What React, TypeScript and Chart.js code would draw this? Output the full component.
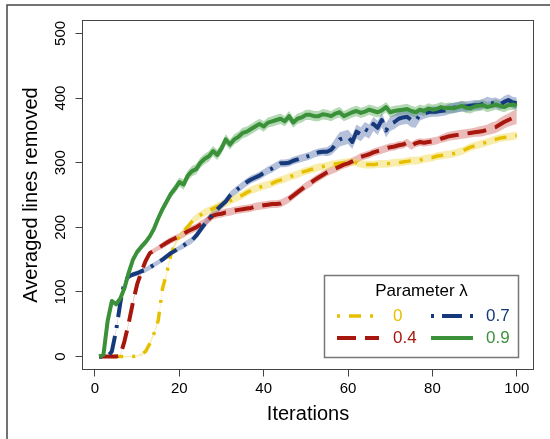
import React, { useEffect, useRef } from "react";
import { Chart, registerables } from "chart.js";

Chart.register(...registerables);

const iterations = Array.from({ length: 100 }, (_, i) => i + 1);
const lambdaLabels = ["0", "0.4", "0.7", "0.9"];
const xTickValues = [0, 20, 40, 60, 80, 100];
const yTickValues = [0, 100, 200, 300, 400, 500];

const avgLambda0 = [
  0, 0, 0, 0, 0, 0, 0, 0, 0, 1,
  3, 8, 20, 36, 56, 105, 129, 158, 175, 186,
  194, 201, 209, 215, 219, 223, 226, 229, 232, 235,
  238, 241, 244, 247, 250, 254, 257, 260, 262, 264,
  266, 268, 271, 273, 275, 278, 280, 282, 285, 287,
  289, 291, 293, 294, 295, 297, 298, 299, 300, 301,
  301, 300, 298, 297, 297, 297, 298, 298, 298, 299,
  300, 300, 301, 302, 303, 303, 304, 306, 307, 308,
  310, 311, 312, 313, 314, 316, 318, 321, 324, 326,
  328, 330, 332, 334, 336, 338, 339, 340, 341, 342,
];
const avgLambda04 = [
  0, 0, 0, 0, 0, 2, 24, 52, 84, 112,
  131, 148, 160, 164, 168, 172, 176, 180, 183, 186,
  190, 194, 197, 200, 204, 208, 213, 218, 220, 221,
  223, 224, 226, 227, 228, 229, 230, 232, 233, 234,
  235, 236, 236, 237, 240, 244, 249, 254, 259, 264,
  268, 273, 277, 281, 285, 288, 291, 294, 297, 299,
  302, 305, 309, 311, 313, 316, 318, 320, 322, 324,
  325, 327, 328, 331, 326, 330, 332, 331, 332, 333,
  334, 337, 339, 341, 342, 343, 344, 345, 346, 347,
  348, 349, 351, 353, 355, 359, 363, 366, 369, 371,
];
const avgLambda07 = [
  0, 0, 0, 8, 40, 83, 116, 124, 127, 129,
  132, 134, 138, 142, 146, 150, 155, 160, 164, 168,
  172, 176, 180, 187, 196, 205, 213, 221, 228, 234,
  240, 249, 255, 260, 265, 270, 274, 277, 280, 284,
  288, 291, 295, 299, 299, 300, 303, 305, 307, 309,
  311, 314, 316, 317, 317, 320, 328, 336, 338, 340,
  332, 348, 344, 352, 348, 360, 354, 366, 350, 360,
  363, 368, 370, 371, 366, 364, 374, 376, 378, 379,
  379, 380, 381, 383, 385, 386, 387, 387, 388, 389,
  389, 391, 394, 392, 393, 390, 394, 397, 393, 392,
];
const avgLambda09 = [
  0, 3, 55, 86, 81, 90, 106, 130, 150, 162,
  170, 177, 186, 198, 214, 228, 240, 252, 260, 270,
  266, 280, 287, 290, 300, 306, 310, 318, 312, 322,
  336, 328, 336, 340, 346, 348, 352, 356, 360, 356,
  362, 364, 366, 368, 364, 372, 362, 368, 370, 374,
  374, 372, 372, 375, 374, 372, 376, 378, 372, 375,
  378, 380, 377, 379, 382, 380, 378, 381, 386, 378,
  380, 381, 382, 383, 380, 378, 382, 380, 384, 382,
  383, 386, 384, 385, 384, 386, 388, 385, 384, 387,
  388, 389, 386, 388, 390, 388, 386, 389, 390, 388,
];

// half-width of the shaded band around each mean curve
const band0 = [
  0, 0, 0, 0, 1, 1, 1, 1, 1, 1,
  2, 2, 3, 3, 3, 3, 3, 4, 4, 4,
  5, 5, 5, 6, 6, 6, 6, 6, 6, 6,
  6, 6, 6, 6, 6, 6, 6, 6, 6, 6,
  6, 6, 6, 6, 6, 6, 6, 6, 6, 6,
  6, 6, 6, 6, 6, 6, 6, 6, 6, 6,
  6, 6, 6, 6, 6, 6, 6, 6, 6, 6,
  6, 6, 6, 6, 6, 6, 6, 6, 6, 6,
  6, 6, 6, 6, 6, 6, 6, 6, 6, 6,
  6, 6, 6, 6, 6, 6, 6, 6, 6, 6,
];
const band04 = [
  0, 0, 0, 0, 1, 1, 2, 2, 3, 3,
  3, 4, 4, 4, 4, 5, 5, 5, 5, 5,
  6, 6, 6, 6, 6, 6, 6, 6, 6, 6,
  6, 6, 6, 6, 6, 6, 6, 6, 6, 6,
  6, 6, 6, 6, 6, 6, 6, 6, 6, 6,
  6, 6, 6, 6, 6, 6, 6, 6, 6, 6,
  6, 6, 6, 6, 6, 6, 6, 6, 6, 6,
  6, 6, 6, 6, 6, 6, 6, 6, 6, 6,
  6, 6, 7, 7, 7, 7, 7, 7, 7, 7,
  8, 8, 8, 9, 9, 10, 10, 10, 11, 11,
];
const band07 = [
  0, 0, 0, 1, 2, 3, 3, 4, 4, 4,
  4, 4, 4, 4, 4, 4, 4, 4, 4, 4,
  5, 5, 5, 5, 6, 6, 6, 6, 6, 6,
  6, 6, 6, 6, 6, 6, 6, 6, 6, 6,
  6, 6, 6, 6, 6, 6, 6, 6, 6, 6,
  6, 6, 6, 6, 7, 8, 10, 11, 11, 11,
  11, 11, 11, 11, 11, 11, 11, 11, 11, 11,
  11, 11, 11, 11, 11, 10, 9, 8, 8, 8,
  8, 8, 8, 8, 8, 8, 8, 8, 8, 8,
  8, 8, 8, 8, 8, 8, 9, 9, 9, 9,
];
const band09 = [
  0, 1, 3, 4, 4, 4, 4, 4, 5, 5,
  5, 5, 5, 6, 6, 6, 6, 6, 7, 7,
  8, 8, 8, 8, 8, 8, 8, 8, 8, 8,
  8, 8, 8, 8, 8, 8, 8, 8, 8, 8,
  8, 8, 8, 8, 8, 8, 8, 8, 8, 8,
  8, 8, 8, 8, 8, 8, 8, 8, 8, 8,
  8, 8, 8, 8, 8, 8, 8, 8, 8, 8,
  8, 8, 8, 8, 8, 8, 8, 8, 8, 8,
  8, 8, 8, 8, 8, 8, 8, 8, 8, 8,
  8, 8, 8, 8, 8, 8, 8, 8, 8, 8,
];

const FONT = "'Liberation Sans', Arial, Helvetica, sans-serif";

export default function App() {
  const ref = useRef<HTMLCanvasElement>(null);

  useEffect(() => {
    const canvas = ref.current;
    if (!canvas) return;

    const series = [
      { label: lambdaLabels[0], values: avgLambda0, band: band0, color: "#E6C000", bandColor: "rgba(240,212,60,0.42)", dash: [3, 9, 12, 9], width: 3.5 },
      { label: lambdaLabels[1], values: avgLambda04, band: band04, color: "#A8170D", bandColor: "rgba(205,85,80,0.40)", dash: [19, 9], width: 4 },
      { label: lambdaLabels[2], values: avgLambda07, band: band07, color: "#15397A", bandColor: "rgba(70,100,165,0.40)", dash: [3, 8, 20, 8], width: 4 },
      { label: lambdaLabels[3], values: avgLambda09, band: band09, color: "#3B9139", bandColor: "rgba(70,160,70,0.40)", dash: [] as number[], width: 4 },
    ];

    const toPts = (vals: number[]) => vals.map((v, i) => ({ x: iterations[i], y: v }));

    const datasets: any[] = [];
    series.forEach((s) => {
      datasets.push({
        data: toPts(s.values.map((v, i) => v + s.band[i])),
        fill: "+1",
        backgroundColor: s.bandColor,
        borderColor: "rgba(0,0,0,0)",
        borderWidth: 0,
        pointRadius: 0,
        order: 10,
      });
      datasets.push({
        data: toPts(s.values.map((v, i) => v - s.band[i])),
        fill: false,
        borderColor: "rgba(0,0,0,0)",
        borderWidth: 0,
        pointRadius: 0,
        order: 10,
      });
    });
    series.forEach((s, k) => {
      datasets.push({
        label: s.label,
        data: toPts(s.values),
        borderColor: s.color,
        borderWidth: s.width,
        borderDash: s.dash,
        borderJoinStyle: "round",
        fill: false,
        pointRadius: 0,
        tension: 0,
        order: 3 - k,
      });
    });

    const framePlugin = {
      id: "frameAndLegend",
      afterDraw(chart: any) {
        const { ctx, chartArea: a } = chart;
        ctx.save();
        // plot box
        ctx.strokeStyle = "#444";
        ctx.lineWidth = 1;
        ctx.setLineDash([]);
        ctx.strokeRect(a.left, a.top, a.right - a.left, a.bottom - a.top);
        // outer figure frame
        ctx.strokeStyle = "#444";
        ctx.lineWidth = 1.5;
        ctx.beginPath();
        ctx.moveTo(7, 439);
        ctx.lineTo(7, 5);
        ctx.lineTo(550, 5);
        ctx.stroke();

        // legend
        const lx = 324.5, ly = 275.5, lw = 194, lh = 82;
        ctx.fillStyle = "#fff";
        ctx.fillRect(lx, ly, lw, lh);
        ctx.strokeStyle = "#777";
        ctx.lineWidth = 1.5;
        ctx.strokeRect(lx, ly, lw, lh);
        ctx.fillStyle = "#000";
        ctx.font = `17px ${FONT}`;
        ctx.textAlign = "center";
        ctx.textBaseline = "middle";
        ctx.fillText("Parameter \u03BB", 421.5, 291);
        const colLine = [337, 431];
        const colText = [393, 486];
        const rowY = [316, 338];
        series.forEach((s, i) => {
          const c = Math.floor(i / 2);
          const r = i % 2;
          ctx.strokeStyle = s.color;
          ctx.lineWidth = s.width;
          ctx.lineCap = "butt";
          ctx.setLineDash(s.dash);
          ctx.beginPath();
          ctx.moveTo(colLine[c], rowY[r]);
          ctx.lineTo(colLine[c] + 42, rowY[r]);
          ctx.stroke();
          ctx.setLineDash([]);
          ctx.fillStyle = s.color;
          ctx.textAlign = "left";
          ctx.fillText(s.label, colText[c], rowY[r]);
        });
        ctx.restore();
      },
    };

    const tickFont = { family: FONT, size: 15 };
    const titleFont = { family: FONT, size: 20 };

    const chart = new Chart(canvas, {
      type: "line",
      data: { datasets },
      options: {
        animation: false,
        responsive: false,
        devicePixelRatio: 1,
        layout: { padding: { left: 0, right: 16.5, top: 20.5, bottom: 0 } },
        plugins: {
          legend: { display: false },
          tooltip: { enabled: false },
        },
        scales: {
          x: {
            type: "linear",
            min: -2.96,
            max: 103.96,
            afterBuildTicks: (s: any) => {
              s.ticks = xTickValues.map((v) => ({ value: v }));
            },
            afterFit: (s: any) => {
              s.height = 69.5;
            },
            grid: { drawOnChartArea: false, drawTicks: true, tickLength: 7, tickColor: "#444", tickWidth: 1 },
            border: { display: false },
            ticks: { font: tickFont, color: "#000", padding: 3, maxRotation: 0, autoSkip: false },
            title: { display: true, text: "Iterations", font: titleFont, color: "#000", padding: { top: 0, bottom: 13 } },
          },
          y: {
            type: "linear",
            min: -20,
            max: 520,
            afterBuildTicks: (s: any) => {
              s.ticks = yTickValues.map((v) => ({ value: v }));
            },
            afterFit: (s: any) => {
              s.width = 82.5;
            },
            grid: { drawOnChartArea: false, drawTicks: true, tickLength: 7, tickColor: "#444", tickWidth: 1 },
            border: { display: false },
            ticks: { font: tickFont, color: "#000", padding: 2, minRotation: 90, maxRotation: 90, crossAlign: "center", autoSkip: false },
            title: { display: true, text: "Averaged lines removed", font: titleFont, color: "#000", padding: { top: 19, bottom: 0 } },
          },
        },
      } as any,
      plugins: [framePlugin],
    });

    return () => chart.destroy();
  }, []);

  return (
    <div style={{ position: "absolute", left: 0, top: 0, width: 550, height: 439, background: "#fff" }}>
      <canvas ref={ref} width={550} height={439} style={{ display: "block", width: 550, height: 439 }} />
    </div>
  );
}
